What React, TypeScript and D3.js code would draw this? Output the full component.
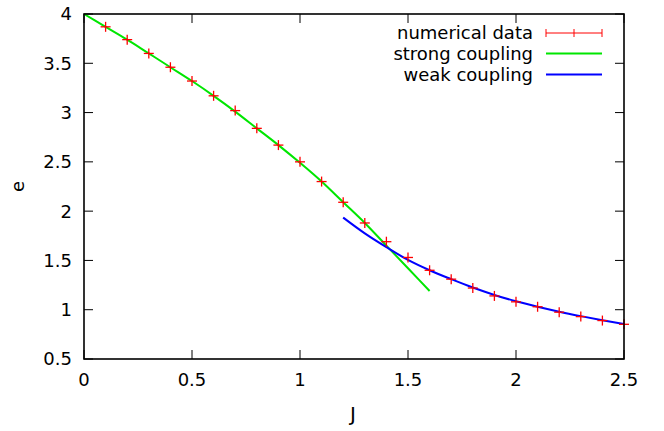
import React from "react";
import * as d3 from "d3";

const dataJ = [0.1, 0.2, 0.3, 0.4, 0.5, 0.6, 0.7, 0.8, 0.9, 1.0, 1.1, 1.2, 1.3, 1.4, 1.5, 1.6, 1.7, 1.8, 1.9, 2.0, 2.1, 2.2, 2.3, 2.4, 2.5];
const dataE = [3.87, 3.74, 3.6, 3.46, 3.32, 3.17, 3.02, 2.84, 2.67, 2.5, 2.3, 2.09, 1.88, 1.69, 1.53, 1.4, 1.31, 1.22, 1.14, 1.08, 1.03, 0.975, 0.93, 0.89, 0.852];

const strongJ = [0, 0.1, 0.2, 0.3, 0.4, 0.5, 0.6, 0.7, 0.8, 0.9, 1.0, 1.1, 1.2, 1.3, 1.4, 1.5, 1.6];
const strongE = [4.0, 3.87, 3.74, 3.6, 3.46, 3.32, 3.17, 3.01, 2.84, 2.67, 2.49, 2.3, 2.09, 1.88, 1.65, 1.42, 1.19];

const weakJ = [1.2, 1.3, 1.4, 1.5, 1.6, 1.7, 1.8, 1.9, 2.0, 2.1, 2.2, 2.3, 2.4, 2.5];
const weakE = [1.935, 1.775, 1.635, 1.505, 1.4, 1.31, 1.225, 1.15, 1.085, 1.03, 0.98, 0.935, 0.893, 0.855];

const xTicks = [0, 0.5, 1, 1.5, 2, 2.5];
const yTicks = [0.5, 1, 1.5, 2, 2.5, 3, 3.5, 4];

const legendLabels = ["numerical data", "strong coupling", "weak coupling"];

export default function App() {
  const W = 664, H = 431;
  const left = 84, right = 624, top = 14, bottom = 359;
  const x = d3.scaleLinear().domain([0, 2.5]).range([left, right]);
  const y = d3.scaleLinear().domain([0.5, 4]).range([bottom, top]);
  const font = "'DejaVu Sans', sans-serif";
  const fs = 18;

  const line = d3
    .line<[number, number]>()
    .x((d) => x(d[0]))
    .y((d) => y(d[1]))
    .curve(d3.curveMonotoneX);

  const strongPts: [number, number][] = strongJ.map((j, i) => [j, strongE[i]]);
  const weakPts: [number, number][] = weakJ.map((j, i) => [j, weakE[i]]);

  const tl = 9;
  const legY = [33, 53.5, 74.5];
  const legTextX = 533;
  const legL = 546, legR = 602;

  return (
    <svg
      width={W}
      height={H}
      style={{ position: "absolute", left: 0, top: 0, background: "#fff" }}
      fontFamily={font}
    >
      <rect x={0} y={0} width={W} height={H} fill="#fff" />
      {xTicks.map((t) => (
        <g key={"x" + t}>
          <line x1={x(t)} x2={x(t)} y1={bottom} y2={bottom - tl} stroke="#000" strokeWidth={1} />
          <line x1={x(t)} x2={x(t)} y1={top} y2={top + tl} stroke="#000" strokeWidth={1} />
          <text x={x(t)} y={380} dy="0.36em" textAnchor="middle" fontSize={fs} fill="#000">
            {String(t)}
          </text>
        </g>
      ))}
      {yTicks.map((t) => (
        <g key={"y" + t}>
          <line x1={left} x2={left + tl} y1={y(t)} y2={y(t)} stroke="#000" strokeWidth={1} />
          <line x1={right} x2={right - tl} y1={y(t)} y2={y(t)} stroke="#000" strokeWidth={1} />
          <text x={72} y={y(t)} dy="0.36em" textAnchor="end" fontSize={fs} fill="#000">
            {String(t)}
          </text>
        </g>
      ))}
      <path d={line(strongPts) || ""} fill="none" stroke="#00e600" strokeWidth={2} />
      <path d={line(weakPts) || ""} fill="none" stroke="#0000ff" strokeWidth={2} />
      {dataJ.map((j, i) => (
        <g key={"p" + i} stroke="#ff0000" strokeWidth={1.3}>
          <line x1={x(j) - 5} x2={x(j) + 5} y1={y(dataE[i])} y2={y(dataE[i])} />
          <line x1={x(j)} x2={x(j)} y1={y(dataE[i]) - 5} y2={y(dataE[i]) + 5} />
        </g>
      ))}
      <rect x={left} y={top} width={right - left} height={bottom - top} fill="none" stroke="#000" strokeWidth={1.6} />
      <text x={353} y={421} textAnchor="middle" fontSize={20} fill="#000">J</text>
      <text transform={`translate(24,${(top + bottom) / 2}) rotate(-90)`} textAnchor="middle" fontSize={fs} fill="#000">e</text>
      {legendLabels.map((lab, i) => (
        <text key={lab} x={legTextX} y={legY[i]} dy="0.36em" textAnchor="end" fontSize={fs} fill="#000">
          {lab}
        </text>
      ))}
      <g stroke="#ff0000" strokeWidth={1}>
        <line x1={legL} x2={legR} y1={legY[0]} y2={legY[0]} />
        <line x1={legL} x2={legL} y1={legY[0] - 4} y2={legY[0] + 4} />
        <line x1={legR} x2={legR} y1={legY[0] - 4} y2={legY[0] + 4} />
        <line x1={(legL + legR) / 2} x2={(legL + legR) / 2} y1={legY[0] - 4} y2={legY[0] + 4} />
      </g>
      <line x1={legL} x2={legR} y1={legY[1]} y2={legY[1]} stroke="#00e600" strokeWidth={2} />
      <line x1={legL} x2={legR} y1={legY[2]} y2={legY[2]} stroke="#0000ff" strokeWidth={2} />
    </svg>
  );
}
